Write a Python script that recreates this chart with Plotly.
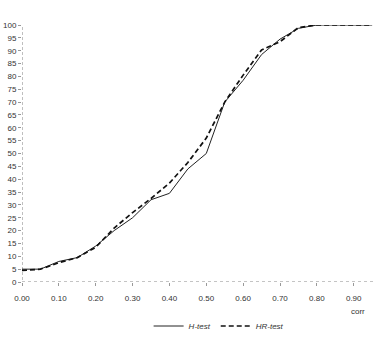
import plotly.graph_objects as go

corr = [0.00, 0.05, 0.10, 0.15, 0.20, 0.25, 0.30, 0.35, 0.40, 0.45,
        0.50, 0.55, 0.60, 0.65, 0.70, 0.75, 0.80, 0.85, 0.90, 0.95]
h_test = [5, 5, 8, 9.5, 14, 20, 25, 32, 34.5, 44,
          50, 70, 78.5, 88.5, 94.5, 98.7, 100, 100, 100, 100]
hr_test = [4.5, 5, 7.5, 9.5, 13.5, 21, 27, 32.5, 38.5, 46.5,
           56, 70, 80.5, 90.3, 93.5, 99, 100, 100, 100, 100]
x_ticks = [0.0, 0.1, 0.2, 0.3, 0.4, 0.5, 0.6, 0.7, 0.8, 0.9]
x_labels = ["0.00", "0.10", "0.20", "0.30", "0.40", "0.50", "0.60", "0.70", "0.80", "0.90"]
y_ticks = list(range(0, 101, 5))

fig = go.Figure()
fig.add_trace(go.Scatter(x=corr, y=h_test, mode="lines", name="<i>H-test</i>",
                         line=dict(color="#222222", width=1)))
fig.add_trace(go.Scatter(x=corr, y=hr_test, mode="lines", name="<i>HR-test</i>",
                         line=dict(color="#111111", width=1.7, dash="5px,3px")))

fig.add_shape(type="line", xref="x", yref="y", x0=0, x1=0.955, y0=0, y1=0,
              line=dict(color="#888888", width=1, dash="3px,3px"), layer="below")
fig.add_shape(type="line", xref="x", yref="y", x0=0, x1=0, y0=-1.2, y1=101.5,
              line=dict(color="#aaaaaa", width=1.5, dash="3px,2px"), layer="below")

fig.add_annotation(text="corr", xref="paper", yref="paper", x=0.955, y=-0.113,
                   yanchor="middle", xanchor="center",
                   showarrow=False, font=dict(size=8, color="#333333",
                                              family="Liberation Sans"))

fig.update_layout(
    width=376, height=340,
    margin=dict(l=22, r=2, t=25, b=58, autoexpand=False),
    paper_bgcolor="white", plot_bgcolor="white",
    font=dict(family="Liberation Sans", size=8, color="#333333"),
    showlegend=True,
    legend=dict(orientation="h", x=0.56, xanchor="center", yref="container",
                y=1 - 326 / 340, yanchor="middle",
                font=dict(size=8), itemwidth=30),
    xaxis=dict(range=[0, 0.955], tickvals=x_ticks, ticktext=x_labels,
               showgrid=False, zeroline=False, showline=False,
               ticks="outside", ticklen=3, tickcolor="#999999",
               ticklabelstandoff=5),
    yaxis=dict(range=[0, 100], tickvals=y_ticks, showgrid=False, zeroline=False,
               showline=False, ticks="outside", ticklen=3, tickcolor="#999999"),
)

fig.write_html("out.html")
